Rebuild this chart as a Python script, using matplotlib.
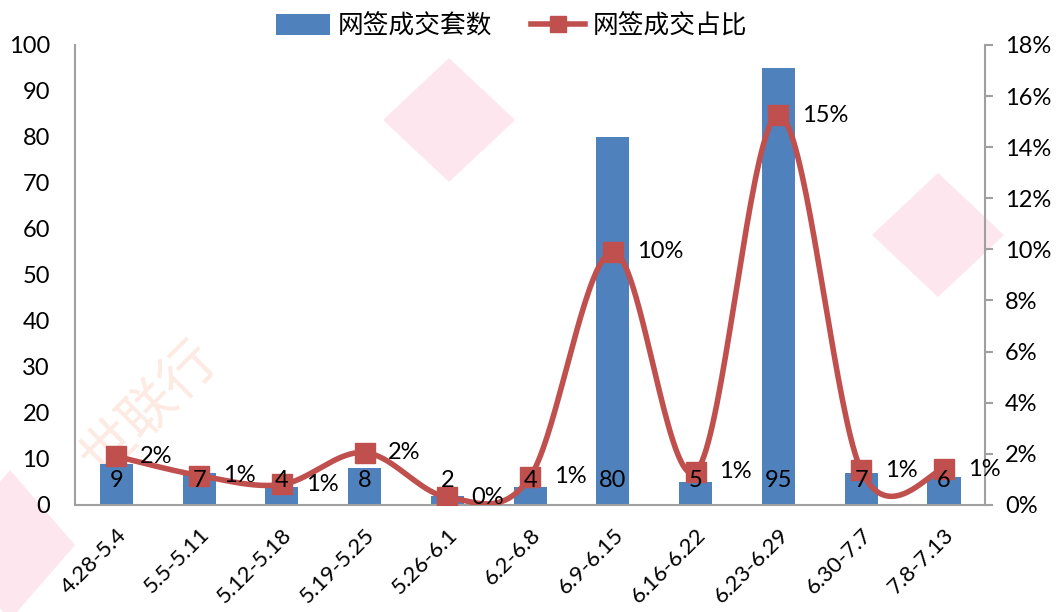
import numpy as np
import matplotlib.pyplot as plt
from matplotlib.patches import Polygon
from matplotlib.lines import Line2D
from matplotlib.patches import Patch

plt.rcParams['font.family'] = ['Lato', 'Noto Sans CJK SC', 'DejaVu Sans']

weeks = ['4.28-5.4', '5.5-5.11', '5.12-5.18', '5.19-5.25', '5.26-6.1', '6.2-6.8',
         '6.9-6.15', '6.16-6.22', '6.23-6.29', '6.30-7.7', '7.8-7.13']
deals = [9, 7, 4, 8, 2, 4, 80, 5, 95, 7, 6]
share = [1.9, 1.15, 0.8, 2.05, 0.3, 1.1, 9.9, 1.3, 15.25, 1.35, 1.4]  # percent
share_labels = ['2%', '1%', '1%', '2%', '0%', '1%', '10%', '1%', '15%', '1%', '1%']

bar_color = '#4F81BD'
line_color = '#C0504D'


def smooth(xs, ys, n=40):
    # Catmull-Rom style bezier smoothing, like Excel's smoothed line
    px = np.concatenate([[xs[0]], xs, [xs[-1]]])
    py = np.concatenate([[ys[0]], ys, [ys[-1]]])
    out_x, out_y = [], []
    t = np.linspace(0, 1, n)
    for i in range(1, len(px) - 2):
        p0 = np.array([px[i], py[i]])
        p3 = np.array([px[i + 1], py[i + 1]])
        p1 = p0 + (np.array([px[i + 1], py[i + 1]]) - np.array([px[i - 1], py[i - 1]])) / 6
        p2 = p3 - (np.array([px[i + 2], py[i + 2]]) - np.array([px[i], py[i]])) / 6
        b = ((1 - t) ** 3)[:, None] * p0 + (3 * (1 - t) ** 2 * t)[:, None] * p1 \
            + (3 * (1 - t) * t ** 2)[:, None] * p2 + (t ** 3)[:, None] * p3
        out_x.extend(b[:, 0])
        out_y.extend(b[:, 1])
    return np.array(out_x), np.array(out_y)


fig = plt.figure(figsize=(10.61, 6.12), dpi=100)

# faint watermark behind the chart
for cx, cy, w, h in [(449, 120, 66, 62), (938, 235, 66, 62), (10, 545, 65, 75)]:
    pts = [((cx - w) / 1061, 1 - cy / 612), (cx / 1061, 1 - (cy - h) / 612),
           ((cx + w) / 1061, 1 - cy / 612), (cx / 1061, 1 - (cy + h) / 612)]
    fig.patches.append(Polygon(pts, closed=True, transform=fig.transFigure,
                               facecolor='#FDE6EE', edgecolor='none', zorder=0))
fig.text(150 / 1061, 1 - 410 / 612, '世联行', rotation=45, fontsize=40, color='#FCEAE3',
         ha='center', va='center', family=['Noto Sans CJK SC'], zorder=0)

ax = fig.add_axes([0.0707, 0.175, 0.858, 0.7515])
ax.set_zorder(2)
ax.patch.set_alpha(0)
x = np.arange(len(weeks))
ax.bar(x, deals, width=0.4, color=bar_color, zorder=2)
ax.set_ylim(0, 100)
ax.set_xlim(-0.5, len(weeks) - 0.5)
ax.set_yticks(range(0, 101, 10))
ax.set_xticks(x)
ax.set_xticklabels(weeks, rotation=45, ha='right', rotation_mode='anchor', fontsize=16)
ax.tick_params(axis='y', length=0, labelsize=17, pad=18)
ax.tick_params(axis='x', length=0, pad=14)
for sp in ['top', 'right']:
    ax.spines[sp].set_visible(False)
for sp in ['left', 'bottom']:
    ax.spines[sp].set_color('#A0A0A0')
    ax.spines[sp].set_linewidth(1.5)

ax2 = ax.twinx()
ax2.set_zorder(3)
ax2.patch.set_alpha(0)
sx, sy = smooth(x.astype(float), np.array(share))
ax2.plot(sx, sy, color=line_color, lw=4, zorder=3, solid_capstyle='round')
ax2.plot(x, share, ls='none', marker='s', ms=14, color=line_color, zorder=4)
ax2.set_ylim(0, 18)
ax2.set_yticks(range(0, 19, 2))
ax2.set_yticklabels([f'{v}%' for v in range(0, 19, 2)])
ax2.tick_params(axis='y', direction='out', length=6, width=1.5, color='#A0A0A0',
                labelsize=17, pad=8)
for sp in ['top', 'left', 'bottom']:
    ax2.spines[sp].set_visible(False)
ax2.spines['right'].set_color('#A0A0A0')
ax2.spines['right'].set_linewidth(1.5)

# bar value labels sit on top of the line markers
for xi, v in zip(x, deals):
    ax2.text(xi, 5.2, str(v), transform=ax.transData, ha='center', va='center',
             fontsize=17, color='black', zorder=6)

for xi, v, lab in zip(x, share, share_labels):
    ax2.annotate(lab, (xi, v), xytext=(17, 0), textcoords='offset points',
                 ha='left', va='center', fontsize=17, zorder=6)

handles = [Patch(facecolor=bar_color, edgecolor='none'),
           Line2D([], [], color=line_color, lw=4, marker='s', ms=12)]
fig.legend(handles, ['网签成交套数', '网签成交占比'], loc='center', ncol=2,
           bbox_to_anchor=(0.482, 0.957), frameon=False, handlelength=2.1,
           columnspacing=1.5, handletextpad=0.3, handleheight=0.9,
           prop={'family': ['Noto Sans CJK SC'], 'size': 18.5})

fig.savefig('out.png', dpi=100)
